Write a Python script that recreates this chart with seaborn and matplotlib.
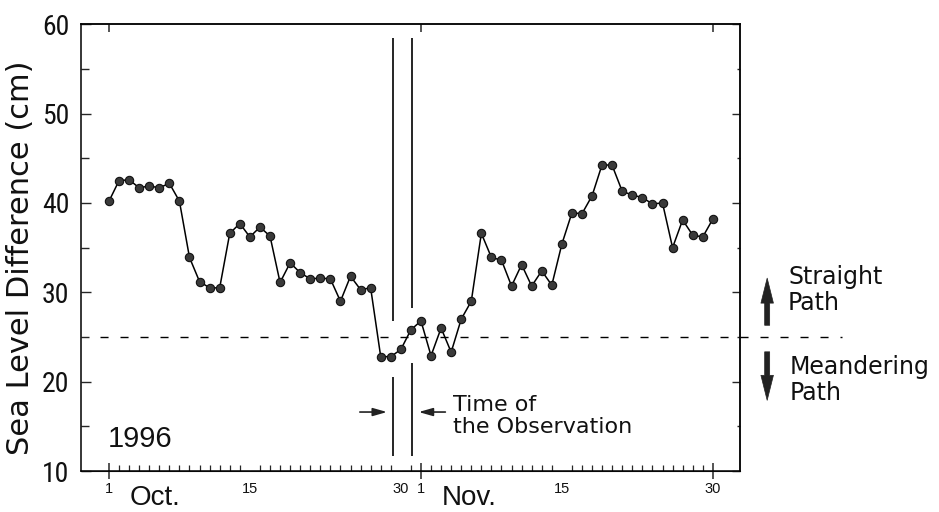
import matplotlib
matplotlib.use('Agg')
import matplotlib.pyplot as plt
import matplotlib.transforms as mtransforms
from matplotlib import font_manager as fm
from matplotlib.ticker import FixedLocator
import seaborn as sns
import pandas as pd

# ---------------- data ----------------
days = list(range(1, 62))          # 1 = Oct 1 ... 32 = Nov 1 ... 61 = Nov 30
sea_level = [40.2, 42.5, 42.6, 41.7, 41.9, 41.7, 42.2, 40.2, 33.9, 31.2,
             30.5, 30.5, 36.6, 37.7, 36.2, 37.3, 36.3, 31.1, 33.3, 32.2,
             31.5, 31.6, 31.5, 29.0, 31.8, 30.3, 30.5, 22.8, 22.8, 23.6,
             25.8, 26.8, 22.9, 26.0, 23.3, 27.0, 29.0, 36.6, 33.9, 33.6,
             30.7, 33.1, 30.7, 32.4, 30.8, 35.4, 38.9, 38.8, 40.8, 44.3,
             44.2, 41.3, 40.9, 40.6, 39.9, 40.0, 35.0, 38.1, 36.4, 36.2, 38.2]
tick_days = [1, 15, 30, 32, 46, 61]
tick_labels = ['1', '15', '30', '1', '15', '30']
boundary_days = [1, 32, 61]
month_names = ['Oct.', 'Nov.']
y_major = [10, 20, 30, 40, 50, 60]
y_minor = [15, 25, 35, 45, 55]
threshold = 25
obs_days = [29.2, 31.1]
obs_lower = [[11.7, 20.5], [11.7, 22.1]]
obs_upper = [[26.8, 58.5], [28.3, 58.5]]
year_label = '1996'

# ---------------- style ----------------
sns.set_style('ticks')
plt.rcParams['font.family'] = ['DejaVu Sans']
avail = {f.name for f in fm.fontManager.ttflist}
narrow = None
for cand in ['Liberation Sans Narrow', 'Roboto Condensed', 'DejaVu Sans Condensed',
             'Open Sans Condensed', 'Noto Sans Condensed', 'Arial Narrow']:
    if cand in avail:
        narrow = cand
        break
helv = 'Liberation Sans' if 'Liberation Sans' in avail else 'DejaVu Sans'
if narrow is None:
    narrow, ytick_size = helv, 18
else:
    ytick_size = 20

W, H = 939, 512
fig = plt.figure(figsize=(W / 100, H / 100), dpi=100)
ax = fig.add_axes([81 / W, 1 - 471 / H, 659 / W, (471 - 24.3) / H])

df = pd.DataFrame({'day': days, 'level': sea_level})
sns.lineplot(data=df, x='day', y='level', ax=ax, color='black', lw=1.1,
             marker='o', markersize=6, markerfacecolor='#3a3a3a',
             markeredgecolor='#111111', markeredgewidth=0.8)

ax.set_xlim(-1.78, 63.7)
ax.set_ylim(10, 60)
ax.set_xlabel('')
ax.set_ylabel('Sea Level Difference (cm)', fontsize=22, family='DejaVu Sans',
              color='#111111')
ax.yaxis.set_label_coords(-0.070, 0.478)

for s in ax.spines.values():
    s.set_linewidth(1.1)
    s.set_color('black')

# y ticks
ax.set_yticks(y_major, [str(v) for v in y_major], fontfamily=narrow,
              fontsize=ytick_size, color='#111111')
ax.yaxis.set_minor_locator(FixedLocator(y_minor))
ax.tick_params(axis='y', which='major', direction='in', length=7, width=1,
               pad=8.5, left=True, right=False)
ax.tick_params(axis='y', which='minor', direction='in', length=6, width=1,
               left=True, right=False)
sec_r = ax.secondary_yaxis('right')
sec_r.set_yticks(y_major)
sec_r.yaxis.set_minor_locator(FixedLocator(y_minor))
sec_r.tick_params(axis='y', which='major', direction='in', length=6, width=1, labelright=False)
sec_r.tick_params(axis='y', which='minor', direction='in', length=2.5, width=1)
sec_r.spines['right'].set_linewidth(1.1)

# x ticks
ax.set_xticks(tick_days, tick_labels, fontfamily=helv, fontsize=10.5, color='#111111')
ax.xaxis.set_minor_locator(FixedLocator(days))
ax.tick_params(axis='x', which='major', length=0, pad=8, top=False)
ax.tick_params(axis='x', which='minor', direction='in', length=4, width=0.9, top=False)
sec_b = ax.secondary_xaxis('bottom')
sec_b.set_xticks(boundary_days)
sec_b.tick_params(axis='x', direction='inout', length=12, width=1.1, labelbottom=False)
sec_t = ax.secondary_xaxis('top')
sec_t.set_xticks(boundary_days)
sec_t.tick_params(axis='x', direction='in', length=6, width=1.1, labeltop=False)
sec_t.spines['top'].set_linewidth(1.1)

# threshold dashed line (extends past the right spine)
blend = mtransforms.blended_transform_factory(ax.transAxes, ax.transData)
ax.plot([0.029, 1.155], [threshold, threshold], transform=blend, color='black',
        lw=1.0, ls=(0, (5.8, 8.6)), clip_on=False)

# observation time lines
for xd, lo, up in zip(obs_days, obs_lower, obs_upper):
    ax.vlines(xd, lo[0], lo[1], color='black', lw=1.2)
    ax.vlines(xd, up[0], up[1], color='black', lw=1.2)

ax.annotate('', xy=(obs_days[0] - 0.3, 16.6), xytext=(obs_days[0] - 3.55, 16.6),
            arrowprops=dict(arrowstyle='-|>,head_length=0.7,head_width=0.2',
                            mutation_scale=12, lw=1.2, color='#222222'))
ax.annotate('', xy=(obs_days[1] + 0.4, 16.6), xytext=(obs_days[1] + 3.6, 16.6),
            arrowprops=dict(arrowstyle='-|>,head_length=0.7,head_width=0.2',
                            mutation_scale=12, lw=1.2, color='#222222'))

# path direction arrows outside the axes
ax.annotate('', xy=(66.4, 31.9), xytext=(66.4, 26.0), annotation_clip=False,
            arrowprops=dict(arrowstyle='simple,head_length=0.9,head_width=0.45,tail_width=0.18',
                            mutation_scale=20, lw=0.5, fc='#222222', ec='#222222'))
ax.annotate('', xy=(66.4, 17.6), xytext=(66.4, 23.65), annotation_clip=False,
            arrowprops=dict(arrowstyle='simple,head_length=0.9,head_width=0.45,tail_width=0.18',
                            mutation_scale=20, lw=0.5, fc='#222222', ec='#222222'))

# texts
def fy(py):
    return 1 - py / H

fig.text(788 / W, fy(310), 'Straight\nPath', fontsize=17, family='DejaVu Sans',
         ha='left', va='baseline', linespacing=1.12, color='#111111')
fig.text(790 / W, fy(400), 'Meandering\nPath', fontsize=17, family='DejaVu Sans',
         ha='left', va='baseline', linespacing=1.08, color='#111111')
fig.text(453 / W, fy(433), 'Time of\nthe Observation', fontsize=16, family='DejaVu Sans',
         ha='left', va='baseline', linespacing=1.15, color='#111111')
fig.text(108 / W, fy(447), year_label, fontsize=21, family=helv,
         ha='left', va='baseline', color='#111111')
fig.text(130 / W, fy(505), month_names[0], fontsize=20, family=helv,
         ha='left', va='baseline', color='#111111')
fig.text(442 / W, fy(505), month_names[1], fontsize=20, family=helv,
         ha='left', va='baseline', color='#111111')

fig.savefig('out.png', dpi=100)
